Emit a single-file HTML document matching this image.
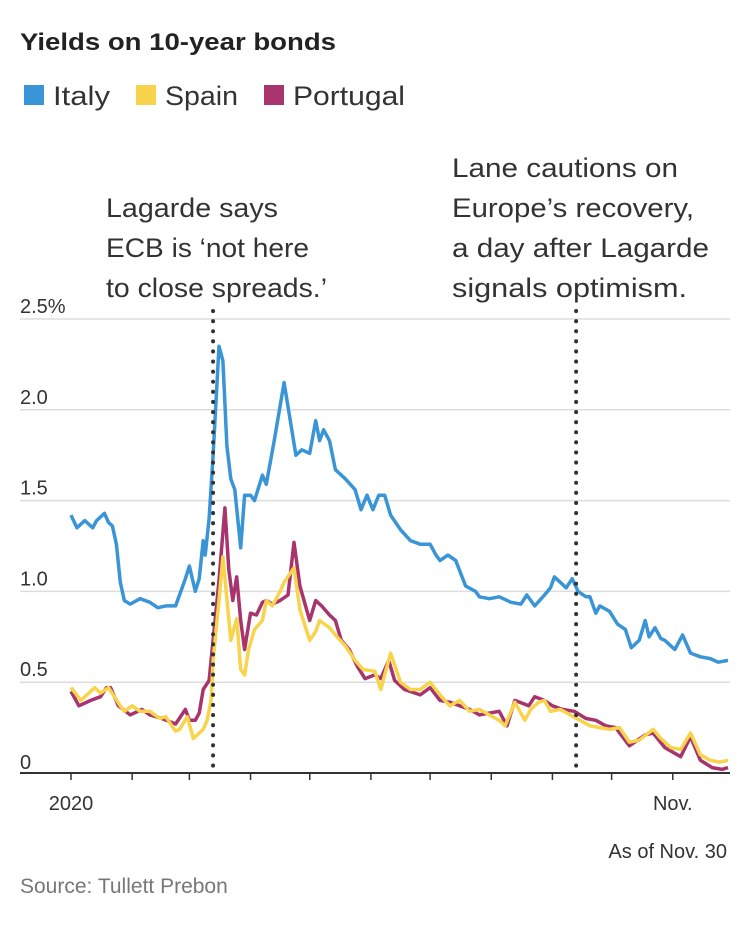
<!DOCTYPE html>
<html><head><meta charset="utf-8"><style>
body{margin:0;background:#fff;}
svg{display:block;font-family:"Liberation Sans",sans-serif;}
</style></head><body>
<svg id="chart" width="750" height="944" viewBox="0 0 750 944">
<text x="20" y="50" font-size="24" font-weight="bold" fill="#222" textLength="316" lengthAdjust="spacingAndGlyphs">Yields on 10-year bonds</text>
<g>
<rect x="24" y="85" width="20" height="20" fill="#3a95d6"/>
<text x="53" y="105" font-size="27" fill="#333" textLength="57" lengthAdjust="spacingAndGlyphs">Italy</text>
<rect x="136" y="85" width="20" height="20" fill="#f7d44c"/>
<text x="165" y="105" font-size="27" fill="#333" textLength="73" lengthAdjust="spacingAndGlyphs">Spain</text>
<rect x="264" y="85" width="20" height="20" fill="#a8346e"/>
<text x="293" y="105" font-size="27" fill="#333" textLength="112" lengthAdjust="spacingAndGlyphs">Portugal</text>
</g>
<g font-size="27" fill="#333" lengthAdjust="spacingAndGlyphs">
<text x="106" y="217" textLength="172" lengthAdjust="spacingAndGlyphs">Lagarde says</text><text x="106" y="257" textLength="203" lengthAdjust="spacingAndGlyphs">ECB is ‘not here</text><text x="106" y="297" textLength="221" lengthAdjust="spacingAndGlyphs">to close spreads.’</text>
</g>
<g font-size="27" fill="#333">
<text x="452" y="177" textLength="226" lengthAdjust="spacingAndGlyphs">Lane cautions on</text><text x="452" y="217" textLength="242" lengthAdjust="spacingAndGlyphs">Europe’s recovery,</text><text x="452" y="257" textLength="257" lengthAdjust="spacingAndGlyphs">a day after Lagarde</text><text x="452" y="297" textLength="235" lengthAdjust="spacingAndGlyphs">signals optimism.</text>
</g>
<g id="grid"></g><g id="series"></g><g id="axes"></g>
<text x="727" y="858" font-size="20" fill="#333" text-anchor="end">As of Nov. 30</text>
<text x="20" y="893" font-size="21" fill="#777">Source: Tullett Prebon</text>
</svg>
<script>
const yTicks=[0,0.5,1.0,1.5,2.0,2.5];
const yTickLabels=["0","0.5","1.0","1.5","2.0","2.5%"];
const monthStartDays=[0,31,60,91,121,152,182,213,244,274,305];
const xTickLabels={0:"2020",305:"Nov."};
const eventDays=[72,256];
const italyDays=[0,3,7,11,13,17,19,21,23,25,27,30,35,40,44,48,53,55,58,60,63,65,67,68,70,72,75,77,79,81,83,86,88,91,93,97,99,103,108,114,117,121,124,126,128,131,134,139,144,147,150,153,156,159,162,167,172,177,182,185,187,191,195,200,205,207,212,217,223,228,231,235,240,243,245,248,251,254,257,261,263,266,268,273,277,281,284,288,291,293,296,299,301,306,310,314,319,324,328,333];
const italyVals=[1.42,1.35,1.39,1.35,1.39,1.43,1.38,1.36,1.26,1.05,0.95,0.93,0.96,0.94,0.91,0.92,0.92,0.98,1.07,1.14,1.00,1.07,1.28,1.20,1.40,1.75,2.35,2.27,1.80,1.62,1.56,1.24,1.53,1.53,1.50,1.64,1.59,1.83,2.15,1.75,1.78,1.76,1.94,1.83,1.89,1.83,1.67,1.62,1.56,1.45,1.53,1.45,1.53,1.53,1.42,1.34,1.28,1.26,1.26,1.20,1.17,1.20,1.17,1.03,1.00,0.97,0.96,0.97,0.94,0.93,0.98,0.92,0.98,1.02,1.08,1.05,1.02,1.07,1.00,0.97,0.97,0.88,0.92,0.89,0.82,0.79,0.69,0.73,0.84,0.75,0.80,0.74,0.73,0.68,0.76,0.66,0.64,0.63,0.61,0.62];
const spainDays=[0,5,9,12,15,19,22,25,27,31,35,40,45,48,53,55,59,62,64,67,69,71,72,75,77,81,84,86,88,90,93,97,99,102,106,108,113,116,121,124,126,131,134,139,144,148,154,157,162,167,172,177,182,187,192,197,202,207,212,217,220,225,230,233,237,240,243,248,253,258,263,268,273,278,283,288,295,299,304,309,314,319,324,329,333];
const spainVals=[0.47,0.40,0.44,0.47,0.44,0.47,0.42,0.37,0.34,0.37,0.34,0.34,0.30,0.31,0.23,0.24,0.31,0.19,0.21,0.24,0.29,0.40,0.62,0.95,1.19,0.73,0.85,0.57,0.54,0.68,0.79,0.84,0.95,0.92,1.00,1.05,1.13,0.90,0.73,0.78,0.84,0.80,0.76,0.70,0.62,0.57,0.56,0.46,0.66,0.50,0.46,0.46,0.50,0.43,0.37,0.40,0.34,0.35,0.32,0.29,0.26,0.39,0.29,0.35,0.39,0.40,0.34,0.35,0.32,0.29,0.26,0.25,0.24,0.25,0.17,0.18,0.24,0.19,0.14,0.13,0.22,0.10,0.07,0.06,0.07];
const portugalDays=[0,4,10,15,18,20,24,30,36,40,46,53,58,60,63,65,67,70,72,75,78,80,82,84,86,88,91,94,97,99,102,106,110,113,116,121,124,127,131,134,137,141,145,149,154,157,161,164,169,177,182,187,192,202,207,217,221,225,232,235,240,244,249,255,261,266,271,276,283,291,295,301,309,314,319,325,330,333];
const portugalVals=[0.45,0.37,0.40,0.42,0.47,0.47,0.37,0.32,0.35,0.32,0.30,0.27,0.35,0.29,0.29,0.33,0.46,0.51,0.73,1.06,1.46,1.12,0.95,1.08,0.84,0.68,0.88,0.87,0.94,0.95,0.93,0.95,0.98,1.27,1.03,0.84,0.95,0.92,0.87,0.84,0.73,0.68,0.59,0.52,0.54,0.52,0.62,0.51,0.46,0.43,0.47,0.40,0.39,0.35,0.32,0.34,0.26,0.40,0.37,0.42,0.40,0.37,0.35,0.34,0.30,0.29,0.26,0.25,0.15,0.21,0.22,0.14,0.09,0.20,0.07,0.03,0.02,0.03];

const NS="http://www.w3.org/2000/svg";
const x0=71,x1=730,dayMax=334,yZero=773,yTop=319,vMax=2.5;
function xScale(d){return x0+(x1-x0)*d/dayMax;}
function yScale(v){return yZero-(yZero-yTop)*v/vMax;}
function mk(tag,attrs,parent){const e=document.createElementNS(NS,tag);for(const k in attrs)e.setAttribute(k,attrs[k]);parent.appendChild(e);return e;}
const grid=document.getElementById('grid'),series=document.getElementById('series'),axes=document.getElementById('axes');
yTicks.forEach((t,i)=>{
  const y=yScale(t);
  if(t>0){const l=mk('line',{x1:20,x2:730,y1:y,y2:y,stroke:'#ddd','stroke-width':1.5},grid);
  
  }
  const tx=mk('text',{x:20,y:t===0?y-4:y-6,'font-size':20,fill:'#333'},grid);
  tx.textContent=yTickLabels[i];
  
  
});
function drawLine(days,vals,color,name){
  const p=mk('path',{d:days.map((d,i)=>(i?'L':'M')+xScale(d).toFixed(1)+' '+yScale(vals[i]).toFixed(1)).join(''),fill:'none',stroke:color,'stroke-width':3.5,'stroke-linejoin':'round'},series);
  
  
}
drawLine(italyDays,italyVals,'#3a95d6','italy-line');
drawLine(portugalDays,portugalVals,'#a8346e','portugal-line');
drawLine(spainDays,spainVals,'#f7d44c','spain-line');
const ax=mk('line',{x1:20,x2:730,y1:yZero,y2:yZero,stroke:'#333','stroke-width':2},axes);


monthStartDays.forEach(d=>{
  const x=xScale(d);
  const t=mk('line',{x1:x,x2:x,y1:yZero,y2:yZero+7,stroke:'#333','stroke-width':1.5},axes);
  
  
  if(xTickLabels[d]){const tx=mk('text',{x:x,y:810,'font-size':20,fill:'#333','text-anchor':'middle'},axes);
  tx.textContent=xTickLabels[d];
  
  }
});
eventDays.forEach(d=>{
  const x=xScale(d);
  const l=mk('line',{x1:x,x2:x,y1:311,y2:773,stroke:'#333','stroke-width':4,'stroke-dasharray':'0.1 10','stroke-linecap':'round'},axes);
  
  
});
</script>
</body></html>
